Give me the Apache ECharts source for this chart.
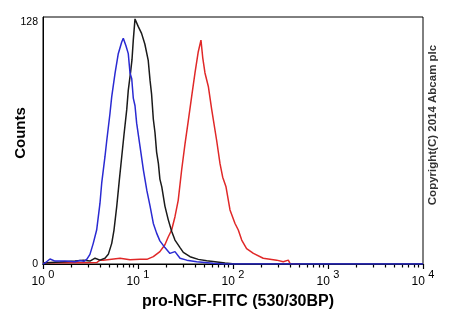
<!DOCTYPE html>
<html>
<head>
<meta charset="utf-8">
<script src="https://cdn.jsdelivr.net/npm/echarts@6/dist/echarts.min.js"></script>
<style>
  html, body { margin: 0; padding: 0; background: #fff; }
  #chart { width: 450px; height: 330px; }
</style>
</head>
<body>
<div id="chart"></div>
<script>
// Flow cytometry histograms: counts per fluorescence channel (log scale)
const decades = [1, 10, 100, 1000, 10000];
const yTicks = [0, 128];

// Isotype / unstained control (blue)
const blueFl = [1.0, 1.05, 1.185, 1.34, 1.70, 2.17, 2.45, 2.70, 2.90, 3.12, 3.38, 3.67, 3.98, 4.15, 4.49, 4.69, 5.07, 5.29, 5.73, 6.20, 6.74, 7.0, 7.48, 7.90, 8.24, 8.59, 8.92, 9.30, 9.68, 10.5, 11.4, 12.4, 13.4, 14.5, 15.7, 17.0, 19.2, 21.7, 24.5, 27.7, 32.6, 41.5, 61.5, 80, 10000];
const blueCt = [0, 0.5, 2.6, 1.5, 1.6, 1.2, 1.8, 1.4, 2.5, 5, 10.7, 17.6, 31.5, 42, 55.6, 64, 78, 86.7, 98.8, 109, 115, 117, 113, 109, 99, 96, 86, 82, 73, 61, 48.7, 38, 30, 21, 16, 12, 8.5, 5.5, 6.4, 3, 2, 1.2, 0.4, 0, 0];

// Secondary-only control (black)
const blackFl = [1.0, 1.51, 2.17, 2.66, 3.12, 3.53, 3.98, 4.49, 4.87, 5.29, 5.59, 5.97, 6.36, 6.74, 7.12, 7.61, 7.90, 8.38, 8.65, 8.92, 9.30, 9.68, 10.07, 10.9, 11.8, 12.8, 13.4, 13.9, 14.5, 15.1, 15.7, 16.4, 17.0, 17.8, 19.2, 20.8, 22.6, 24.5, 27.7, 30.0, 35.3, 43.1, 52.9, 64.7, 82.4, 105, 10000];
const blackCt = [0.5, 1, 1.5, 2, 1.5, 3, 2, 3, 5, 10.7, 17.6, 29.7, 43.5, 55.6, 67, 80, 90, 100, 106, 116, 127, 126.5, 123, 119.5, 114, 105.7, 95, 88, 75, 68, 58, 52, 44, 40, 30, 23, 17, 12.4, 8.5, 6, 3.8, 2.4, 1.7, 1.2, 0.5, 0, 0];

// pro-NGF stained sample (red)
const redFl = [1.0, 1.51, 2.45, 3.70, 3.98, 4.31, 6.47, 8.24, 10.5, 12.4, 14.5, 17.0, 19.2, 20.8, 22.6, 24.5, 26.5, 28.8, 31.2, 33.8, 36.7, 39.8, 43.1, 46.0, 48.0, 50.7, 55.0, 59.7, 67.3, 73.0, 77.9, 84.4, 93.0, 105, 113.7, 123.5, 139, 164, 208, 288, 338, 382, 398, 507];
const redCt = [0.7, 0.8, 0.7, 0.8, 2, 2, 3, 2.2, 2.4, 2.4, 3.8, 6.4, 10, 14, 17.6, 24.5, 33, 48.7, 62, 74, 86.7, 99, 110, 116, 107, 99, 92, 80, 64, 52, 45, 40, 28, 21, 17.6, 12.4, 8, 5.5, 3, 2, 1.2, 2, 0.3, 0];

const pairs = (xs, ys) => xs.map((x, i) => [x, ys[i]]);

// minor ticks at 2..9 within each decade
const minorTicks = [];
decades.slice(0, -1).forEach(d => { for (let k = 2; k <= 9; k++) minorTicks.push(d * k); });

const FONT = "'Liberation Sans', Arial, sans-serif";

const chart = echarts.init(document.getElementById('chart'), null, { renderer: 'canvas' });
chart.setOption({
  animation: false,
  backgroundColor: '#fff',
  grid: {
    left: 43, right: 27, top: 17, bottom: 66,
    show: true, borderColor: '#000', borderWidth: 1
  },
  xAxis: [
    {
      type: 'log', logBase: 10, min: 1, max: 10000, position: 'bottom',
      axisLine: { show: true, lineStyle: { color: '#000', width: 1 } },
      axisTick: { show: true, length: 5, lineStyle: { color: '#000', width: 1.2 } },
      axisLabel: {
        show: true, margin: 5,
        fontFamily: FONT, color: '#000',
        formatter: v => '{b|10} {s|' + Math.round(Math.log10(v)) + '}',
        rich: {
          b: { fontSize: 12, fontFamily: FONT, color: '#000', padding: [7, 0, 0, 0] },
          s: { fontSize: 11, fontFamily: FONT, color: '#000', padding: [0, 0, 8, 0] }
        }
      },
      splitLine: { show: false }
    },
    {
      type: 'log', logBase: 10, min: 1, max: 10000, position: 'bottom',
      axisLine: { show: true, lineStyle: { color: '#000', width: 1 } },
      axisTick: { show: true, length: 3.5, customValues: minorTicks, lineStyle: { color: '#000', width: 1.2 } },
      axisLabel: { show: false },
      splitLine: { show: false }
    }
  ],
  yAxis: {
    type: 'value', min: yTicks[0], max: yTicks[1], interval: yTicks[1],
    axisLine: { show: true, lineStyle: { color: '#000' } },
    axisTick: { show: false },
    axisLabel: {
      margin: 5, fontSize: 10.5, fontFamily: FONT, color: '#000',
      formatter: v => v === yTicks[1] ? '{t|' + v + '}' : String(v),
      rich: { t: { fontSize: 10.5, fontFamily: FONT, color: '#000', padding: [10, 0, 0, 0] } }
    },
    splitLine: { show: false }
  },
  graphic: [
    {
      type: 'text', x: 21, y: 133, rotation: Math.PI / 2,
      style: { text: 'Counts', font: 'bold 15px ' + FONT, fill: '#000', align: 'center', verticalAlign: 'middle' }
    },
    {
      type: 'text', x: 238, y: 302,
      style: { text: 'pro-NGF-FITC (530/30BP)', font: 'bold 16px ' + FONT, fill: '#000', align: 'center', verticalAlign: 'middle' }
    },
    {
      type: 'text', x: 433, y: 125, rotation: Math.PI / 2,
      style: { text: 'Copyright(C) 2014 Abcam plc', font: 'bold 11.5px ' + FONT, fill: '#333', align: 'center', verticalAlign: 'middle' }
    }
  ],
  series: [
    {
      name: 'pro-NGF', type: 'line', xAxisIndex: 0, data: pairs(redFl, redCt),
      showSymbol: false, symbol: 'none', lineStyle: { color: '#e02828', width: 1.5 }, z: 2
    },
    {
      name: 'Secondary', type: 'line', xAxisIndex: 0, data: pairs(blackFl, blackCt),
      showSymbol: false, symbol: 'none', lineStyle: { color: '#1a1a1a', width: 1.5 }, z: 3
    },
    {
      name: 'Control', type: 'line', xAxisIndex: 0, data: pairs(blueFl, blueCt),
      showSymbol: false, symbol: 'none', lineStyle: { color: '#2a2ad2', width: 1.5 }, z: 4
    }
  ]
});
</script>
</body>
</html>
